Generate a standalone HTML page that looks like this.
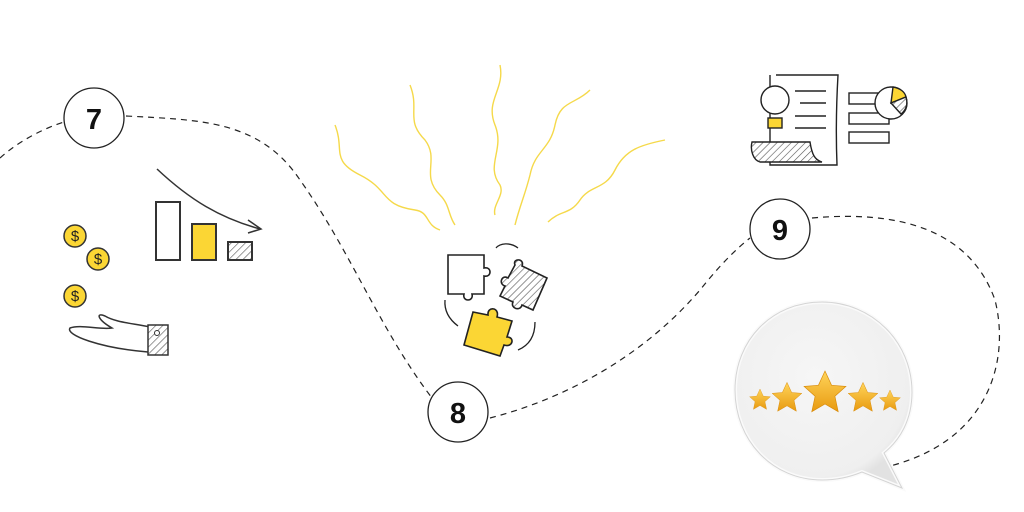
<!DOCTYPE html>
<html><head><meta charset="utf-8"><style>
html,body{margin:0;padding:0;background:#fff;width:1024px;height:512px;overflow:hidden}
</style></head><body>
<svg width="1024" height="512" viewBox="0 0 1024 512" xmlns="http://www.w3.org/2000/svg">
<defs>
<pattern id="h" width="5" height="5" patternUnits="userSpaceOnUse" patternTransform="rotate(45)"><rect width="5" height="5" fill="#fff"/><line x1="0" y1="0" x2="0" y2="5" stroke="#555" stroke-width="1.2"/></pattern>
<radialGradient id="bub" cx="0.45" cy="0.4" r="0.6"><stop offset="0" stop-color="#f6f6f6"/><stop offset="0.9" stop-color="#efefef"/><stop offset="1" stop-color="#e2e2e2"/></radialGradient>
<linearGradient id="st" x1="0" y1="0" x2="0" y2="1"><stop offset="0" stop-color="#ffd45a"/><stop offset="1" stop-color="#e89a10"/></linearGradient>
</defs>
<g fill="none" stroke="#222" stroke-width="1.2" stroke-dasharray="6,5">
<path d="M0,158 C20,140 45,128 64,122"/>
<path d="M126,116 C200,120 260,120 300,180 C350,250 380,330 432,398"/>
<path d="M490,418 C560,400 640,360 700,290 C720,265 735,250 750,238"/>
<path d="M812,218 C900,210 970,230 995,300 C1010,360 990,440 890,466"/>
</g>
<g fill="#fff" stroke="#222" stroke-width="1.3">
<circle cx="94" cy="118" r="30"/><circle cx="458" cy="412" r="30"/><circle cx="780" cy="229" r="30"/>
</g>
<g font-family="Liberation Sans, sans-serif" font-weight="bold" font-size="29" text-anchor="middle" fill="#111">
<text x="94" y="129">7</text><text x="458" y="423">8</text><text x="780" y="240">9</text>
</g>
<g stroke="#333" stroke-width="2">
<rect x="156" y="202" width="24" height="58" fill="#fff"/>
<rect x="192" y="224" width="24" height="36" fill="#fbd634"/>
<rect x="228" y="242" width="24" height="18" fill="url(#h)"/>
<path d="M157,169 C190,200 220,218 260,229" fill="none" stroke-width="1.5"/>
<path d="M248,220 L261,229 L248,233" fill="none" stroke-width="1.5"/>
</g>
<g stroke="#333" stroke-width="1.5" fill="#fbd634">
<circle cx="75" cy="236" r="11"/><circle cx="98" cy="259" r="11"/><circle cx="75" cy="296" r="11"/>
</g>
<g font-family="Liberation Sans, sans-serif" font-size="15" text-anchor="middle" fill="#222"><text x="75" y="241">$</text><text x="98" y="264">$</text><text x="75" y="301">$</text></g>
<path d="M150,327 C130,323 115,322 105,316 C95,312 98,320 112,328 C100,330 80,324 70,328 C65,335 100,348 148,352" fill="#fff" stroke="#333" stroke-width="1.5"/>
<rect x="148" y="325" width="20" height="30" fill="url(#h)" stroke="#333" stroke-width="1.5"/>
<circle cx="157" cy="333" r="2.5" fill="#fff" stroke="#333"/>
<g fill="none" stroke="#f5d94a" stroke-width="1.4">
<path d="M335,125 C345,150 330,160 360,175 C390,190 380,205 415,210 C430,212 425,225 440,230"/>
<path d="M410,85 C420,110 405,120 425,140 C440,160 420,175 440,195 C450,205 448,215 455,225"/>
<path d="M500,65 C505,90 485,100 495,125 C505,150 485,165 500,185 C505,195 492,205 495,215"/>
<path d="M590,90 C575,105 560,100 555,125 C550,150 535,150 530,175 C525,195 520,205 515,225"/>
<path d="M665,140 C640,145 625,150 615,170 C605,190 590,185 580,200 C570,215 560,210 548,222"/>
</g>
<g stroke="#222" stroke-width="1.6">
<path d="M448,255 L484,255 L484,268 C492,266 492,278 484,276 L484,294 L472,294 C474,302 462,302 464,294 L448,294 Z" fill="#fff"/>
<path d="M515,265 C512,258 525,258 522,266 L547,278 L533,310 L522,305 C520,312 510,308 513,302 L500,296 L505,286 C498,284 502,274 508,278 Z" fill="url(#h)"/>
<path d="M473,312 L488,315 C487,306 500,307 497,317 L512,321 L507,337 C515,337 513,348 504,345 L500,356 L464,345 Z" fill="#fbd634"/>
</g>
<g fill="none" stroke="#222" stroke-width="1.3">
<path d="M518,248 C510,242 500,243 496,248"/><path d="M445,300 C444,312 450,320 458,326"/><path d="M518,350 C530,345 535,335 535,322"/>
</g>
<g stroke="#222" stroke-width="1.4">
<path d="M776,75 L838,75 C836,110 836,140 837,165 L770,165 L770,75" fill="#fff"/>
<path d="M752,142 L810,142 C812,155 815,160 822,162 L760,162 C753,160 750,150 752,142Z" fill="url(#h)"/>
<line x1="795" y1="91" x2="826" y2="91"/><line x1="800" y1="103" x2="826" y2="103"/><line x1="795" y1="116" x2="826" y2="116"/><line x1="795" y1="128" x2="826" y2="128"/>
<circle cx="775" cy="100" r="14" fill="#fff"/>
<rect x="768" y="118" width="14" height="10" fill="#fbd634"/>
<rect x="849" y="93" width="40" height="11" fill="#fff"/><rect x="849" y="113" width="40" height="11" fill="#fff"/><rect x="849" y="132" width="40" height="11" fill="#fff"/>
<circle cx="891" cy="103" r="16" fill="#fff"/>
<path d="M891,103 L893,87 C900,88 905,92 906,97 Z" fill="#fbd634"/>
<path d="M891,103 L906,97 C908,104 906,110 901,114 Z" fill="url(#h)"/>
</g>
<path d="M822,302 C872,302 912,342 912,392 C912,420 900,440 884,453 L902,488 L862,472 C850,477 836,480 822,480 C772,480 735,440 735,390 C735,340 772,302 822,302Z" fill="url(#bub)" stroke="#fafafa" stroke-width="4"/>
<path d="M822,302 C872,302 912,342 912,392 C912,420 900,440 884,453 L902,488 L862,472 C850,477 836,480 822,480 C772,480 735,440 735,390 C735,340 772,302 822,302Z" fill="none" stroke="#d4d4d4" stroke-width="1"/>
<g fill="url(#st)" stroke="#d88a08" stroke-width="0.6">
<path transform="translate(760,400) scale(0.55)" d="M0,-20 L6,-7 L19,-6 L9,3 L12,17 L0,10 L-12,17 L-9,3 L-19,-6 L-6,-7Z"/>
<path transform="translate(787,398) scale(0.78)" d="M0,-20 L6,-7 L19,-6 L9,3 L12,17 L0,10 L-12,17 L-9,3 L-19,-6 L-6,-7Z"/>
<path transform="translate(825,393) scale(1.1)" d="M0,-20 L6,-7 L19,-6 L9,3 L12,17 L0,10 L-12,17 L-9,3 L-19,-6 L-6,-7Z"/>
<path transform="translate(863,398) scale(0.78)" d="M0,-20 L6,-7 L19,-6 L9,3 L12,17 L0,10 L-12,17 L-9,3 L-19,-6 L-6,-7Z"/>
<path transform="translate(890,401) scale(0.55)" d="M0,-20 L6,-7 L19,-6 L9,3 L12,17 L0,10 L-12,17 L-9,3 L-19,-6 L-6,-7Z"/>
</g>
</svg>
</body></html>
